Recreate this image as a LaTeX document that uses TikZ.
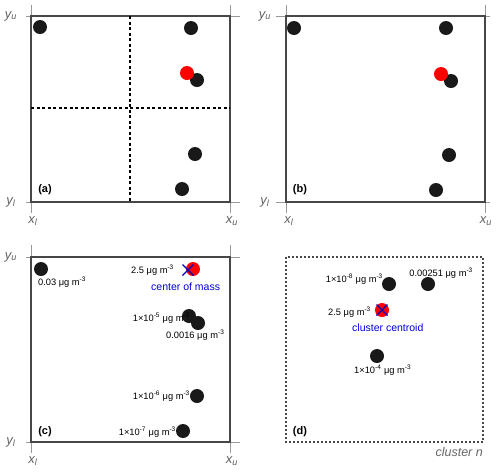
\documentclass[tikz,border=0pt]{standalone}
\usepackage{fontspec}
\setmainfont{Liberation Sans}
\begin{document}
\begin{tikzpicture}[x=1pt,y=-1pt,
  frame/.style={draw=black!72, line width=1.4pt},
  dframe/.style={draw=black!72, line width=1.6pt, dash pattern=on 1.6pt off 2.4pt},
  axisline/.style={draw=black!40, line width=1pt},
  grid/.style={draw=black, line width=1.3pt, dash pattern=on 3pt off 2.5pt},
  dot/.style={circle, fill=black!90, minimum size=14pt, inner sep=0pt},
  reddot/.style={circle, fill=red, minimum size=14pt, inner sep=0pt},
  cross/.style={draw=blue!75!black, line width=1.2pt},
  conc/.style={font=\fontsize{9.3}{10}\selectfont, inner sep=0pt},
  blab/.style={font=\fontsize{10.5}{12}\selectfont, text=blue!85!black, inner sep=0pt},
  axlab/.style={font=\fontsize{13}{14}\selectfont\itshape, text=black!62, inner sep=0pt},
  plab/.style={font=\fontsize{11}{13}\selectfont\bfseries, inner sep=0pt},
  clab/.style={font=\fontsize{12.5}{14}\selectfont\itshape, text=black!60, inner sep=0pt}]
\useasboundingbox (0,0) rectangle (500,475);
\newcommand{\ugm}{μg m\textsuperscript{-3}}

% ---------- panel (a)
\draw[axisline] (31,5) -- (31,213) (230,5) -- (230,213) (26,16) -- (240,16) (26,202) -- (240,202);
\draw[frame] (31,16) rectangle (230,202);
\draw[grid] (130,16) -- (130,202) (31,108) -- (230,108);
\node[axlab] (ayu) at (11,16) {y\textsubscript{u}};
\node[axlab] (ayl) at (11,202) {y\textsubscript{l}};
\node[axlab] (axl) at (33,221) {x\textsubscript{l}};
\node[axlab] (axu) at (232,221) {x\textsubscript{u}};
\node[plab] (alab) at (45,190) {(a)};
\node[dot] (a1) at (40,27) {};
\node[dot] (a2) at (191,28) {};
\node[dot] (a3) at (197,80) {};
\node[reddot] (a4) at (187,73) {};
\node[dot] (a5) at (195,154) {};
\node[dot] (a6) at (182,189) {};

% ---------- panel (b)
\draw[axisline] (286,5) -- (286,213) (485,5) -- (485,213) (276,16) -- (490,16) (276,202) -- (490,202);
\draw[frame] (286,16) rectangle (485,202);
\node[axlab] (byu) at (265,16) {y\textsubscript{u}};
\node[axlab] (byl) at (265,202) {y\textsubscript{l}};
\node[axlab] (bxl) at (289,221) {x\textsubscript{l}};
\node[axlab] (bxu) at (486,221) {x\textsubscript{u}};
\node[plab] (blab) at (300,190) {(b)};
\node[dot] (b1) at (294,28) {};
\node[dot] (b2) at (446,28) {};
\node[dot] (b3) at (451,81) {};
\node[reddot] (b4) at (441,74) {};
\node[dot] (b5) at (449,155) {};
\node[dot] (b6) at (436,190) {};

% ---------- panel (c)
\draw[axisline] (31,245) -- (31,453) (230,245) -- (230,453) (26,257) -- (240,257) (26,442) -- (240,442);
\draw[frame] (31,257) rectangle (230,442);
\node[axlab] (cyu) at (11,257) {y\textsubscript{u}};
\node[axlab] (cyl) at (11,442) {y\textsubscript{l}};
\node[axlab] (cxl) at (33,461) {x\textsubscript{l}};
\node[axlab] (cxu) at (232,461) {x\textsubscript{u}};
\node[plab] (clab) at (45,432) {(c)};
\node[dot] (c1) at (41,269) {};
\node[reddot] (c2) at (193,269) {};
\node[dot] (c3) at (189,316) {};
\node[dot] (c4) at (198,323) {};
\node[dot] (c5) at (197,396) {};
\node[dot] (c6) at (183,431) {};
\coordinate (cx) at (188,270);
\draw[cross] ([shift={(-5.5,-5.5)}]cx) -- ([shift={(5.5,5.5)}]cx)
             ([shift={(-5.5,5.5)}]cx) -- ([shift={(5.5,-5.5)}]cx);
\node[conc, anchor=west] (t1) at (38,282) {0.03 \ugm};
\node[conc, anchor=east] (t2) at (174,270) {2.5 \ugm};
\node[blab, anchor=west] (t3) at (151,287) {center of mass};
\node[conc, anchor=east] (t4) at (190,318) {1×10\textsuperscript{-5} \ugm};
\node[conc, anchor=west] (t5) at (166,335) {0.0016 \ugm};
\node[conc, anchor=east] (t6) at (190,396) {1×10\textsuperscript{-6} \ugm};
\node[conc, anchor=east] (t7) at (176,432) {1×10\textsuperscript{-7} \ugm};

% ---------- panel (d)
\draw[dframe] (286,257) rectangle (483,442);
\node[plab] (dlab) at (300,432) {(d)};
\node[clab, anchor=east] (dcl) at (483,452) {cluster n};
\node[dot] (d1) at (389,284) {};
\node[dot] (d2) at (428,284) {};
\node[reddot] (d3) at (382,310) {};
\node[dot] (d4) at (377,356) {};
\draw[cross] ([shift={(-5.5,-5.5)}]d3.center) -- ([shift={(5.5,5.5)}]d3.center)
             ([shift={(-5.5,5.5)}]d3.center) -- ([shift={(5.5,-5.5)}]d3.center);
\node[conc, anchor=east] (u1) at (383,279) {1×10\textsuperscript{-8} \ugm};
\node[conc, anchor=east] (u2) at (473,273) {0.00251 \ugm};
\node[conc, anchor=east] (u3) at (371,312) {2.5 \ugm};
\node[blab, anchor=west] (u4) at (352,328) {cluster centroid};
\node[conc, anchor=west] (u5) at (354,370) {1×10\textsuperscript{-4} \ugm};
\end{tikzpicture}
\end{document}
